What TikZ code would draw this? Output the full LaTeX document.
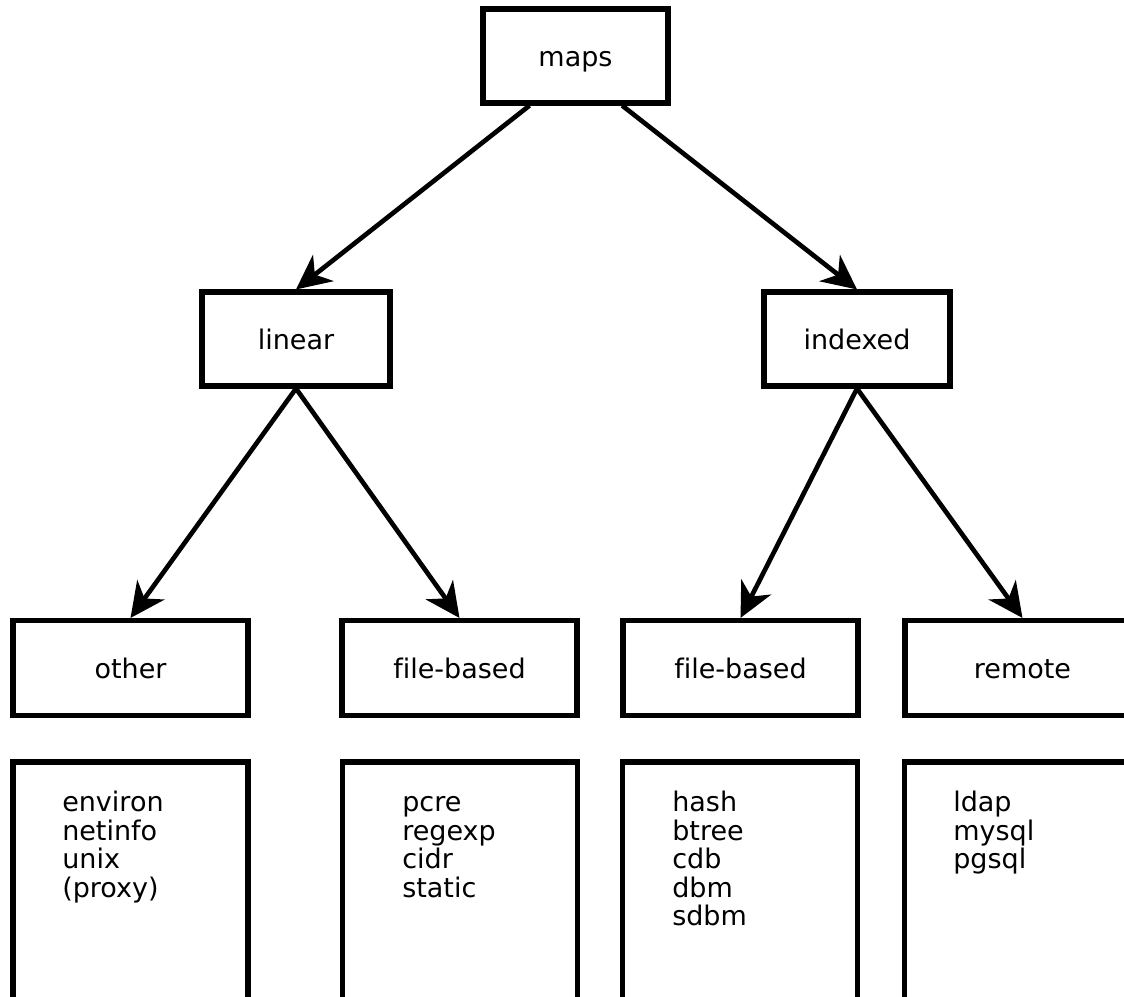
\documentclass[tikz,border=0pt]{standalone}
\usepackage{fontspec}
\setmainfont{DejaVu Sans}[Ligatures=NoCommon]
\usetikzlibrary{arrows.meta}
\newcommand\mylistfont{\fontsize{20.25}{21.4}\selectfont\lineskiplimit=-100pt\relax}
\begin{document}
\begin{tikzpicture}[x=0.75pt,y=-0.75pt,
  box/.style={draw, line width=3.8pt, inner sep=0pt, line join=miter, font=\fontsize{20.25}{21.4}\selectfont},
  labelbox/.style={box, text height=15.4pt, text depth=0pt},
  upbox/.style={labelbox, minimum height=70.5pt},
  midbox/.style={labelbox, minimum width=176.25pt, minimum height=71.25pt},
  listbox/.style={box, minimum width=176.25pt, minimum height=186pt},
  conn/.style={line width=3.5pt, -{Stealth[length=26pt,width=25pt,inset=8pt]}},
  listtext/.style={anchor=north west, inner sep=0pt, align=left, font=\mylistfont}]
\useasboundingbox (0,0) rectangle (1124,996);
\fill[white] (0,0) rectangle (1124,996);
\clip (0,0) rectangle (1124,996);

\node[upbox, minimum width=138.75pt] (maps) at (575.5,56) {maps};
\node[upbox, minimum width=141pt] (linear) at (296,339) {linear};
\node[upbox, minimum width=139.5pt] (indexed) at (857,339) {indexed};

\node[midbox] (other) at (130.5,668) {other};
\node[midbox] (filel) at (459.5,668) {file-based};
\node[midbox] (filer) at (740.5,668) {file-based};
\node[midbox] (remote) at (1022.5,668) {remote};

\node[listbox] (otherlist) at (130.5,886) {};
\node[listbox] (filellist) at (460,886) {};
\node[listbox] (filerlist) at (740,886) {};
\node[listbox] (remotelist) at (1022,886) {};

\node[listtext] (othertext) at (62,790) {\rule{0pt}{16pt}environ\\netinfo\\unix\\(proxy)};
\node[listtext] (fileltext) at (402,790) {\rule{0pt}{16pt}pcre\\regexp\\cidr\\static};
\node[listtext] (filertext) at (672,790) {\rule{0pt}{16pt}hash\\btree\\cdb\\dbm\\sdbm};
\node[listtext] (remotetext) at (953,790) {\rule{0pt}{16pt}ldap\\mysql\\pgsql};

\draw[conn] ([xshift=-34.5pt]maps.south) -- (linear.north);
\draw[conn] ([xshift=35pt]maps.south) -- (indexed.north);
\draw[conn] (linear.south) -- (other.north);
\draw[conn] (linear.south) -- (filel.north);
\draw[conn] (indexed.south) -- (filer.north);
\draw[conn] (indexed.south) -- (remote.north);
\end{tikzpicture}
\end{document}
